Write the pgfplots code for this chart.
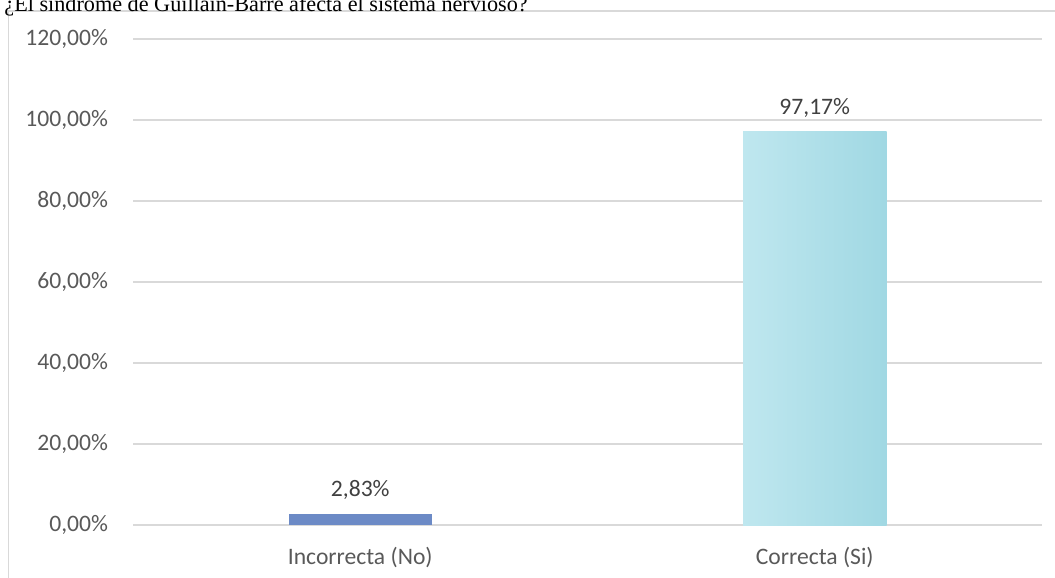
\documentclass[border=0pt]{standalone}
\usepackage{fontspec}
\setmainfont{Carlito}
\newfontfamily\titlefont{Liberation Serif}
\usepackage{pgfplots}
\pgfplotsset{compat=1.18}
\definecolor{gridc}{HTML}{D9D9D9}
\definecolor{tickc}{HTML}{595959}
\definecolor{labc}{HTML}{404040}
\definecolor{bluebar}{HTML}{6C8AC6}
\definecolor{aqual}{HTML}{BFE7EF}
\definecolor{aquad}{HTML}{A0D8E3}
\begin{document}
\begin{tikzpicture}
\useasboundingbox (0,0) rectangle (527.5pt,289pt);
\draw[gridc, line width=0.75pt] (4.25pt,-2pt) -- (4.25pt,283.5pt) -- (530pt,283.5pt);
\node[anchor=base west, inner sep=0pt, font=\titlefont\fontsize{11.1}{13}\selectfont] at (2pt,283.2pt) {¿El síndrome de Guillain-Barré afecta el sistema nervioso?};
\begin{axis}[
  at={(66.5pt,26.5pt)}, anchor=south west,
  scale only axis, width=454.5pt, height=243pt,
  xmin=-0.5, xmax=1.5, ymin=0, ymax=120,
  axis line style={draw=none},
  tick style={draw=none},
  ymajorgrids,
  grid style={gridc, line width=0.75pt},
  ytick={0,20,40,60,80,100,120},
  yticklabels={{0,00\%},{20,00\%},{40,00\%},{60,00\%},{80,00\%},{100,00\%},{120,00\%}},
  xtick={0,1},
  xticklabels={Incorrecta (No),Correcta (Si)},
  yticklabel style={font=\fontsize{11.8}{14}\selectfont, text=tickc, anchor=east, xshift=-9pt},
  xticklabel style={font=\fontsize{11.8}{14}\selectfont, text=tickc, anchor=north, yshift=-3.5pt},
  ybar, bar width=71.75pt, bar shift=0pt,
  nodes near coords style={font=\fontsize{11.8}{14}\selectfont, text=labc, yshift=3.5pt},
]
\addplot[draw=none, fill=bluebar, nodes near coords={2,83\%}] coordinates {(0,2.83)};
\addplot[draw=none, left color=aqual, right color=aquad, nodes near coords={97,17\%}] coordinates {(1,97.17)};
\end{axis}
\end{tikzpicture}
\end{document}
